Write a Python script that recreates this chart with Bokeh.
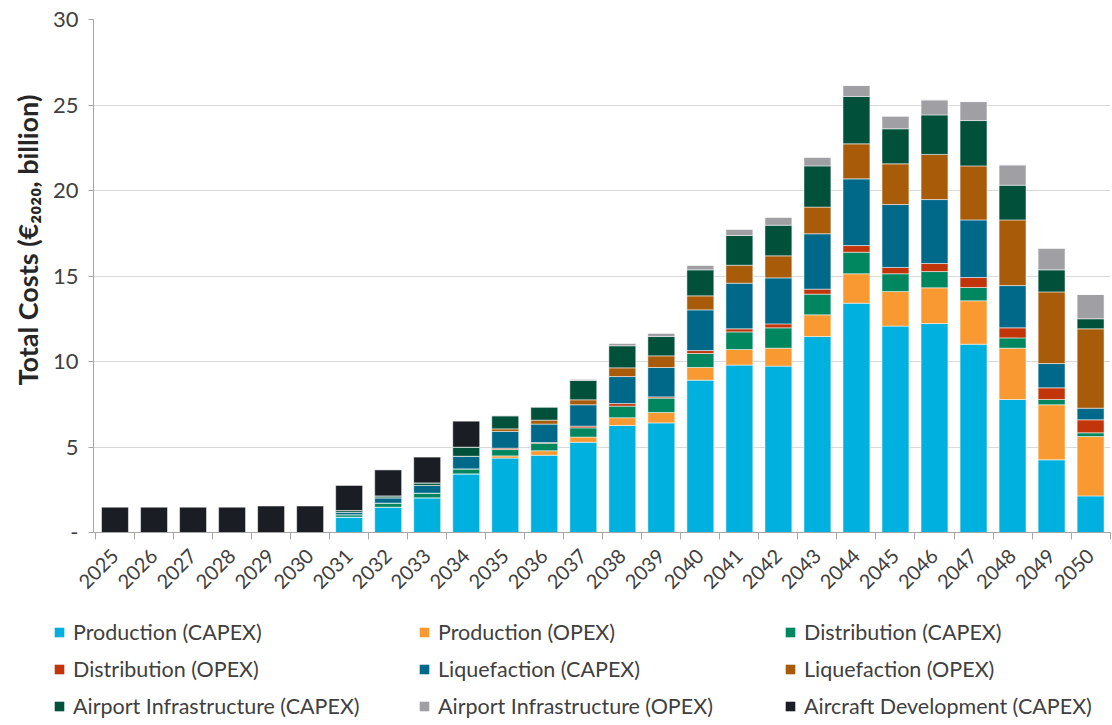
import math
from bokeh.plotting import figure
from bokeh.layouts import column
from bokeh.models import (ColumnDataSource, Range1d, FixedTicker, Legend, LegendItem,
                          Title)
from bokeh.embed import file_html
from bokeh.resources import INLINE

years = [str(y) for y in range(2025, 2051)]

prod_capex = [0, 0, 0, 0, 0, 0, 0.90, 1.48, 2.03, 3.43, 4.35, 4.52, 5.28, 6.26, 6.41, 8.91,
              9.79, 9.73, 11.46, 13.41, 12.07, 12.22, 11.01, 7.78, 4.25, 2.14]
prod_opex = [0, 0, 0, 0, 0, 0, 0, 0, 0, 0, 0.13, 0.26, 0.30, 0.45, 0.61, 0.74,
             0.91, 1.05, 1.27, 1.72, 2.02, 2.09, 2.54, 3.00, 3.22, 3.47]
dist_capex = [0, 0, 0, 0, 0, 0, 0.14, 0.24, 0.27, 0.29, 0.37, 0.44, 0.54, 0.68, 0.84, 0.82,
              1.03, 1.19, 1.21, 1.26, 1.04, 0.95, 0.78, 0.60, 0.31, 0.22]
dist_opex = [0, 0, 0, 0, 0, 0, 0, 0, 0, 0, 0.08, 0.04, 0.10, 0.15, 0.07, 0.17,
             0.18, 0.23, 0.29, 0.39, 0.37, 0.47, 0.58, 0.59, 0.68, 0.76]
liq_capex = [0, 0, 0, 0, 0, 0, 0.15, 0.31, 0.45, 0.74, 0.98, 1.08, 1.25, 1.58, 1.72, 2.38,
             2.67, 2.69, 3.24, 3.90, 3.68, 3.74, 3.37, 2.47, 1.42, 0.68]
liq_opex = [0, 0, 0, 0, 0, 0, 0, 0, 0, 0, 0.15, 0.23, 0.29, 0.51, 0.68, 0.82,
            1.05, 1.29, 1.56, 2.05, 2.38, 2.64, 3.16, 3.84, 4.19, 4.64]
air_capex = [0, 0, 0, 0, 0, 0, 0.10, 0.11, 0.15, 0.53, 0.76, 0.76, 1.13, 1.29, 1.13, 1.52,
             1.74, 1.79, 2.41, 2.77, 2.05, 2.31, 2.65, 2.03, 1.29, 0.59]
air_opex = [0, 0, 0, 0, 0, 0, 0, 0, 0, 0, 0.04, 0.04, 0.08, 0.15, 0.20, 0.27,
            0.37, 0.47, 0.51, 0.64, 0.74, 0.88, 1.11, 1.19, 1.27, 1.42]
aircraft = [1.48, 1.48, 1.48, 1.48, 1.55, 1.55, 1.46, 1.52, 1.51, 1.52, 0, 0, 0, 0, 0, 0,
            0, 0, 0, 0, 0, 0, 0, 0, 0, 0]

keys = ["prod_capex", "prod_opex", "dist_capex", "dist_opex", "liq_capex",
        "liq_opex", "air_capex", "air_opex", "aircraft"]
labels = ["Production (CAPEX)", "Production (OPEX)", "Distribution (CAPEX)",
          "Distribution (OPEX)", "Liquefaction (CAPEX)", "Liquefaction (OPEX)",
          "Airport Infrastructure (CAPEX)", "Airport Infrastructure (OPEX)",
          "Aircraft Development (CAPEX)"]
colors = ["#00b0de", "#f89a31", "#00875f", "#c2350a", "#00698a",
          "#a85c0a", "#00503a", "#a09fa4", "#1a1e24"]

y_ticks = [0, 5, 10, 15, 20, 25, 30]
y_title = "Total Costs (€₂₀₂₀, billion)"

x = list(range(len(years)))
src = ColumnDataSource(dict(x=x, prod_capex=prod_capex, prod_opex=prod_opex,
                            dist_capex=dist_capex, dist_opex=dist_opex,
                            liq_capex=liq_capex, liq_opex=liq_opex,
                            air_capex=air_capex, air_opex=air_opex, aircraft=aircraft))

FONT = "Lato"
TXT = "#404040"

p = figure(width=1112, height=610, output_backend="svg", toolbar_location=None,
           x_range=Range1d(-0.551, 25.51), y_range=Range1d(0, 30),
           min_border_left=93, min_border_right=2, min_border_top=19,
           min_border_bottom=78)
p.outline_line_color = None

rs = p.vbar_stack(keys, x="x", width=0.69, source=src, fill_color=colors,
                  line_color="white", line_width=0.5)

# x axis
p.xaxis.ticker = FixedTicker(ticks=x, minor_ticks=[i - 0.5 for i in range(27)])
p.xaxis.major_label_overrides = {i: yr for i, yr in enumerate(years)}
p.xaxis.major_label_orientation = math.pi / 4
p.xaxis.major_tick_out = 0
p.xaxis.major_tick_in = 0
p.xaxis.minor_tick_out = 7
p.xaxis.minor_tick_in = 0
p.xaxis.axis_line_color = "#a6a6a6"
p.xaxis.minor_tick_line_color = "#a6a6a6"
p.xaxis.major_label_text_font = FONT
p.xaxis.major_label_text_font_size = "20px"
p.xaxis.major_label_text_color = TXT
p.xaxis.major_label_standoff = 13

# y axis
p.yaxis.ticker = FixedTicker(ticks=y_ticks)
p.yaxis.major_label_overrides = {0: "-"}
p.yaxis.major_tick_out = 5
p.yaxis.major_tick_in = 0
p.yaxis.minor_tick_line_color = None
p.yaxis.axis_line_color = "#a6a6a6"
p.yaxis.major_tick_line_color = "#a6a6a6"
p.yaxis.major_label_text_font = FONT
p.yaxis.major_label_text_font_size = "22px"
p.yaxis.major_label_text_color = TXT
p.yaxis.major_label_standoff = 10

p.add_layout(Title(text=y_title, align="left", offset=147, standoff=12,
                   text_font=FONT, text_font_style="bold", text_font_size="27px",
                   text_color="#262626"), "left")

p.xgrid.grid_line_color = None
p.ygrid.ticker = FixedTicker(ticks=y_ticks)
p.ygrid.grid_line_color = "#d9d9d9"

# legend panel below the chart (zero-height proxy bars carry the swatch colours)
lp = figure(width=1112, height=115, output_backend="svg", toolbar_location=None,
            x_range=Range1d(0, 1), y_range=Range1d(0, 1),
            x_axis_type=None, y_axis_type=None, min_border=0)
lp.frame_align = False
lp.outline_line_color = None
lp.xgrid.grid_line_color = None
lp.ygrid.grid_line_color = None
proxy = ColumnDataSource(dict(x=[0.5], top=[0]))
lrs = [lp.vbar(x="x", top="top", width=0.01, source=proxy, fill_color=c,
               line_color=None) for c in colors]

cols = [[0, 3, 6], [1, 4, 7], [2, 5, 8]]
xs = [53, 418, 784]
for cx, idxs in zip(xs, cols):
    items = [LegendItem(label=labels[i], renderers=[lrs[i]]) for i in idxs]
    leg = Legend(items=items, location=(cx, 6), orientation="vertical",
                 glyph_width=12, glyph_height=12, label_standoff=8,
                 label_height=20, spacing=11, padding=0, margin=0,
                 border_line_color=None, background_fill_alpha=0,
                 label_text_font=FONT, label_text_font_size="21.5px",
                 label_text_color=TXT)
    lp.add_layout(leg)

open("out.html", "w").write(file_html(column(p, lp), INLINE))
